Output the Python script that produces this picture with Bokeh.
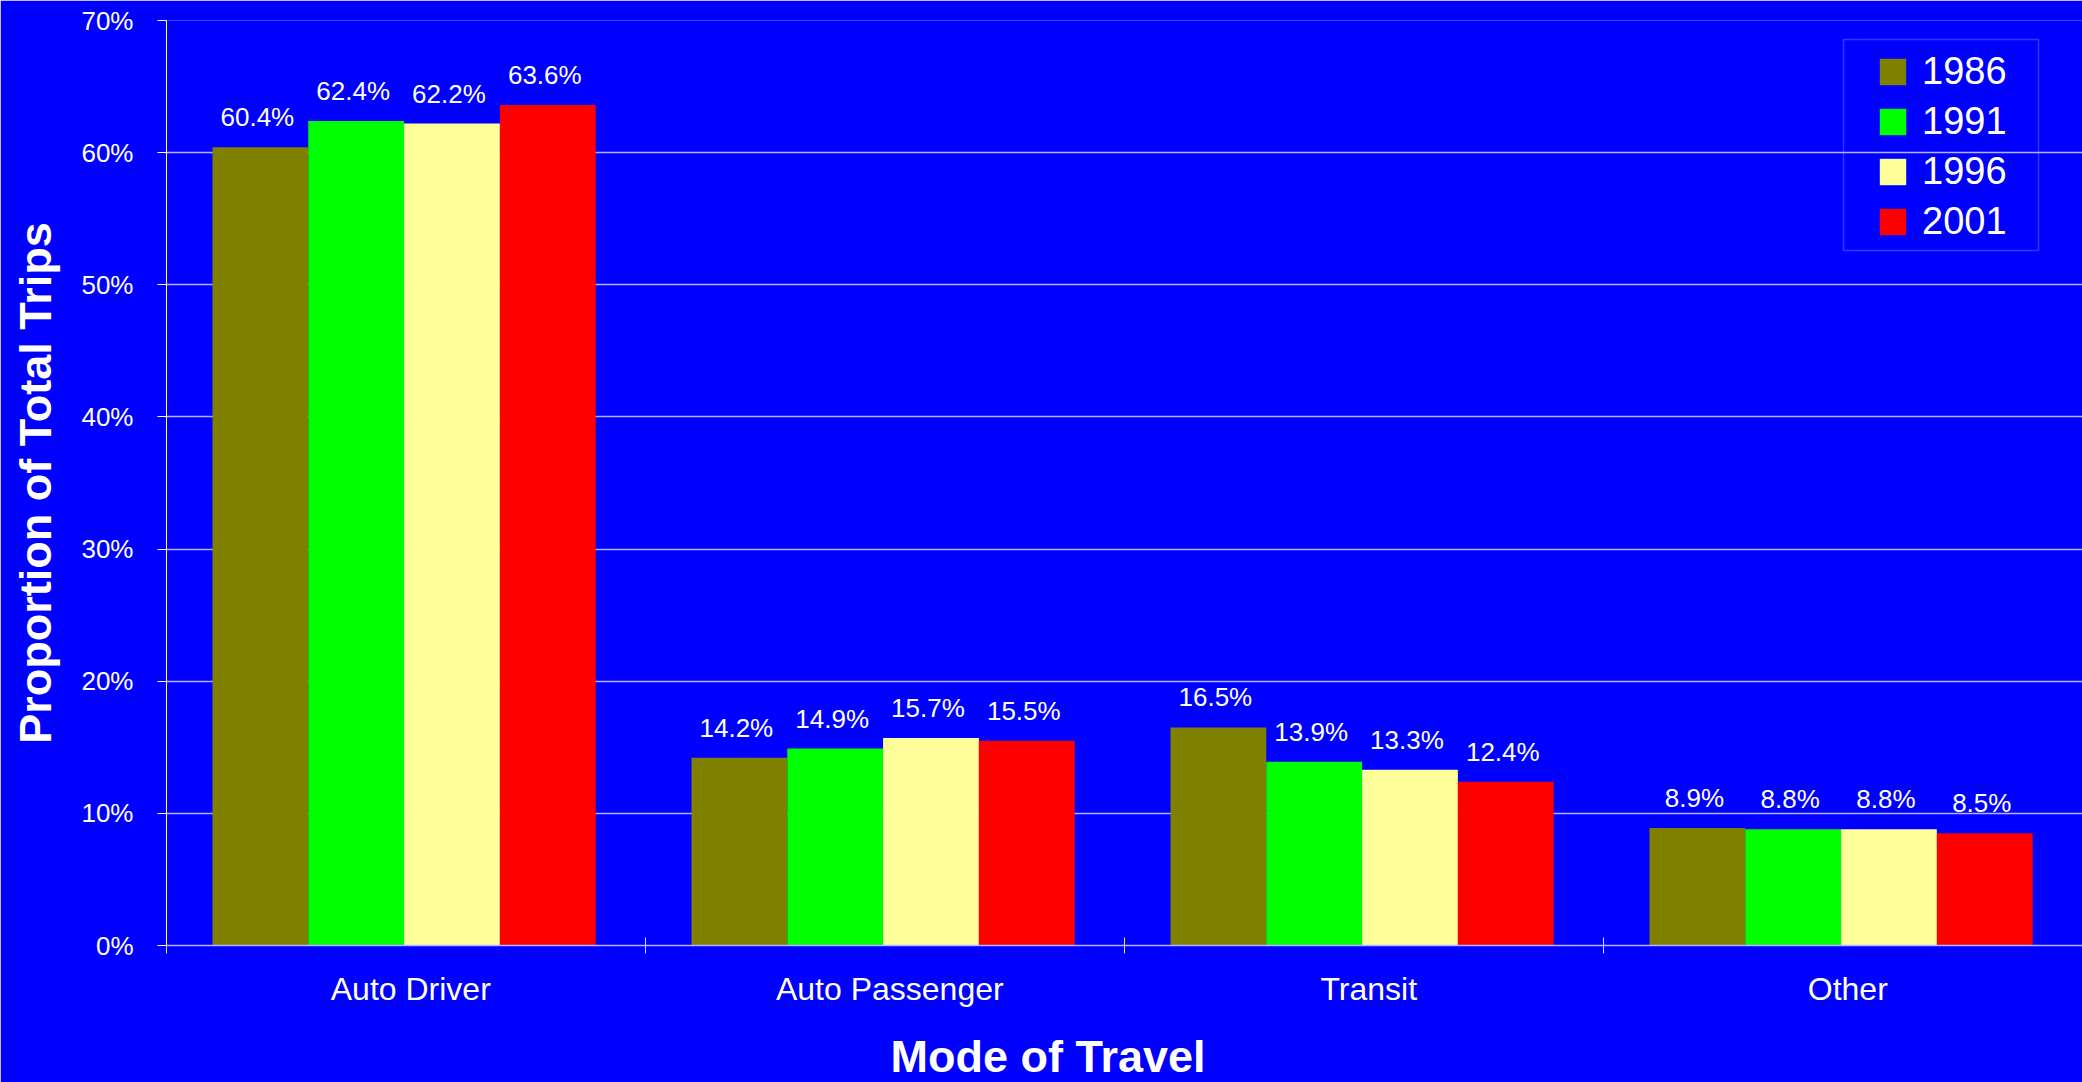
from bokeh.plotting import figure
from bokeh.models import (Range1d, FixedTicker, PrintfTickFormatter, ColumnDataSource,
                          LabelSet, Title, BoxAnnotation)
from bokeh.core.properties import value
from bokeh.embed import file_html
from bokeh.resources import INLINE

# ---- data ----
categories = ["Auto Driver", "Auto Passenger", "Transit", "Other"]
years = ["1986", "1991", "1996", "2001"]
values_1986 = [60.4, 14.2, 16.5, 8.9]
values_1991 = [62.4, 14.9, 13.9, 8.8]
values_1996 = [62.2, 15.7, 13.3, 8.8]
values_2001 = [63.6, 15.5, 12.4, 8.5]
y_ticks = [0, 10, 20, 30, 40, 50, 60, 70]
series = [values_1986, values_1991, values_1996, values_2001]
colors = ["#808000", "#00FF00", "#FFFF99", "#FF0000"]

BG = "#0000FF"
FONT = "Liberation Sans"
GRID = "#B3B3FF"

p = figure(width=2082, height=1082, output_backend="svg", toolbar_location=None,
           x_range=Range1d(0, len(categories)), y_range=Range1d(0, 70),
           min_border_left=166, min_border_right=0, min_border_top=20,
           min_border_bottom=137)
p.background_fill_color = BG
p.border_fill_color = BG
p.outline_line_color = None

bar_w = 0.2
group_shift = -0.004
for j, (yr, vals, col) in enumerate(zip(years, series, colors)):
    xs = [i + 0.5 + group_shift + (j - 1.5) * bar_w for i in range(len(categories))]
    src = ColumnDataSource(dict(x=xs, top=vals,
                                lab=[f"{v:.1f}%" for v in vals]))
    p.vbar(x="x", top="top", bottom=0, width=bar_w, source=src,
           fill_color=col, line_color=None, legend_label=yr)
    p.add_layout(LabelSet(x="x", y="top", text="lab", source=src,
                          text_align="center", text_baseline="alphabetic",
                          x_offset=-3, y_offset=21, text_color="white",
                          text_font=value(FONT), text_font_size="26px"))

# y axis
p.yaxis.ticker = FixedTicker(ticks=y_ticks, minor_ticks=[])
p.yaxis.formatter = PrintfTickFormatter(format="%d%%")
p.yaxis.axis_line_color = "white"
p.yaxis.major_tick_line_color = "white"
p.yaxis.major_tick_out = 9
p.yaxis.major_tick_in = 0
p.yaxis.major_label_standoff = 24
p.yaxis.major_label_text_color = "white"
p.yaxis.major_label_text_font = FONT
p.yaxis.major_label_text_font_size = "26px"
p.yaxis.axis_label = "Proportion of Total Trips"
p.yaxis.axis_label_text_color = "white"
p.yaxis.axis_label_text_font = FONT
p.yaxis.axis_label_text_font_style = "bold"
p.yaxis.axis_label_text_font_size = "45px"
p.yaxis.axis_label_standoff = 17

# x axis
label_shift = 0.01
centers = [i + 0.5 + label_shift for i in range(len(categories))]
bounds = [float(i) for i in range(len(categories) + 1)]
p.xaxis.ticker = FixedTicker(ticks=centers, minor_ticks=bounds)
p.xaxis.major_label_overrides = {c: name for c, name in zip(centers, categories)}
p.xaxis.axis_line_color = GRID
p.xaxis.axis_line_width = 1.5
p.xaxis.major_tick_line_color = None
p.xaxis.major_tick_out = 0
p.xaxis.major_tick_in = 0
p.xaxis.minor_tick_line_color = "#E0E0FF"
p.xaxis.minor_tick_in = 8
p.xaxis.minor_tick_out = 8
p.xaxis.major_label_standoff = 17
p.xaxis.major_label_text_color = "white"
p.xaxis.major_label_text_font = FONT
p.xaxis.major_label_text_font_size = "32px"
# invisible spacer label to push the title below down
p.xaxis.axis_label = " "
p.xaxis.axis_label_text_font_size = "10px"
p.xaxis.axis_label_standoff = 5

p.xgrid.grid_line_color = None
p.ygrid.ticker = FixedTicker(ticks=y_ticks)
p.ygrid.grid_line_color = GRID
p.ygrid.grid_line_width = 1.5

# x axis title, centred on the whole chart
p.add_layout(Title(text="Mode of Travel", align="left", offset=724,
                   text_color="white", text_font=FONT, text_font_style="bold",
                   text_font_size="45px", standoff=0), "below")

# legend
lg = p.legend[0]
lg.location = (1700, 692)
lg.padding = 10
lg.spacing = 6
lg.glyph_width = 33
lg.glyph_height = 33
lg.label_height = 44
lg.label_standoff = 13
lg.label_text_color = "white"
lg.label_text_font = FONT
lg.label_text_font_size = "38px"
lg.background_fill_alpha = 0
lg.border_line_alpha = 0
p.add_layout(BoxAnnotation(left=1677, right=1872, top=906, bottom=695,
                           left_units="screen", right_units="screen",
                           top_units="screen", bottom_units="screen",
                           fill_alpha=0, line_color=GRID, line_width=1.5))

open("out.html", "w").write(file_html(p, INLINE))
